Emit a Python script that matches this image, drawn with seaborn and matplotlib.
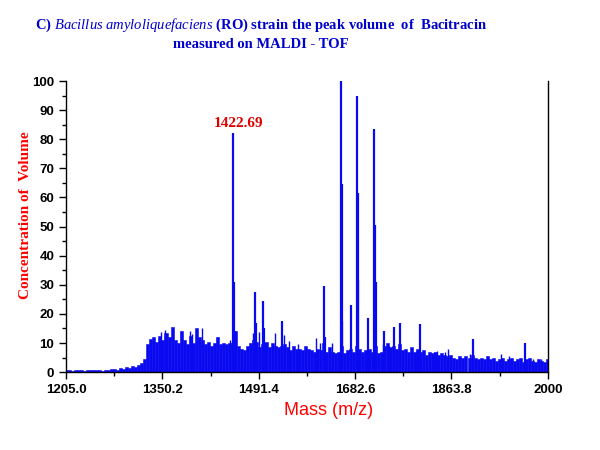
import pandas as pd
import matplotlib
matplotlib.use("Agg")
import matplotlib.pyplot as plt
import seaborn as sns

# baseline spectrum, one value per 5 m/z step starting at 1205
mass = list(range(1205, 2005, 5))
intensity = [
    0.6, 0.8, 0.5, 0.7, 0.9, 0.6, 0.5, 0.8, 0.7, 0.6, 0.9, 0.7, 0.5, 0.8, 0.6, 1.0,
    1.2, 0.9, 1.5, 1.1, 1.8, 1.4, 2.2, 1.9, 2.6, 3.1, 4.5,
    9.5, 11.5, 12.0, 10.5, 12.5, 11.0, 13.5, 12.0, 15.5, 11.0, 10.0, 14.0, 11.0, 9.5,
    12.5, 10.0, 15.0, 12.0, 11.0, 9.5, 10.5, 9.0, 10.0, 12.0, 9.5, 10.0, 9.5, 10.0,
    10.0, 14.0, 9.0, 8.0, 7.5, 9.0, 10.0, 11.0, 10.5, 8.5, 9.5, 10.5, 8.5, 10.0, 9.0,
    8.5, 9.0, 9.5, 8.5, 7.5, 9.0, 8.0, 8.0, 7.5, 9.0, 8.0, 7.5, 7.0, 8.0, 7.5, 10.0,
    7.0, 8.5, 7.0, 6.5, 7.0, 9.0, 6.5, 7.5, 8.0, 7.0, 9.0, 8.0, 7.0, 7.5, 8.0, 7.0,
    9.0, 6.5, 7.0, 9.0, 10.0, 8.5, 9.0, 8.0, 9.5, 7.5, 8.0, 7.0, 8.5, 7.0, 8.0, 7.0,
    7.5, 6.0, 7.0, 6.5, 7.0, 6.0, 6.5, 6.0, 5.5, 6.0, 5.0, 4.5, 5.5, 5.0, 5.5, 5.0,
    6.0, 5.0, 4.5, 5.0, 4.5, 5.5, 4.5, 5.0, 4.0, 4.5, 5.0, 4.0, 4.5, 5.0, 4.0, 4.5,
    5.0, 3.5, 4.5, 5.0, 4.0, 3.5, 4.5, 4.0, 3.5, 4.5,
]

# sharp peaks on top of the baseline
peak_mass = [1480.5, 1482.1, 1484.6, 1517.2, 1518.4, 1529.9, 1531.6, 1561.8,
             1631.0, 1632.1, 1658.1, 1659.6, 1661.0, 1674.6, 1684.5, 1686.0,
             1687.6, 1703.8, 1713.5, 1714.8, 1716.6, 1729.0, 1745.5, 1756.4,
             1789.4, 1875.8, 1962.6]
peak_height = [82, 31, 14, 27.4, 17, 24.4, 15, 17.5,
               29.5, 12, 100, 64.5, 17.5, 23, 95, 61.5,
               31.5, 18.5, 83.5, 50.6, 31, 14, 15.5, 17,
               16.5, 11.3, 10]

# small spikes that poke out of the noise floor
spike_mass = [1361.7, 1368.3, 1394.7, 1409.5, 1412.8, 1429.8, 1454.6, 1475.5,
              1512.9, 1523.8, 1549.2, 1565.1, 1573.3, 1587.2, 1616.9, 1624.5,
              1643.2, 1727.4, 1738.3, 1775.7, 1782.3, 1811.5, 1817.4, 1830.6,
              1834.6, 1871.4, 1901.5, 1922.5, 1936.2, 1974.8, 1988.5]
spike_height = [13.7, 14.4, 14.0, 14.0, 13.0, 15.0, 12.0, 11.0,
                13.5, 13.7, 13.3, 12.7, 10.7, 9.6, 11.7, 10.0,
                10.0, 9.6, 8.9, 7.9, 7.3, 7.0, 7.3, 7.0,
                8.0, 6.2, 5.3, 6.2, 5.7, 4.4, 4.4]

tick_pos = [1205, 1364, 1523, 1682, 1841, 2000]
tick_labels = ["1205.0", "1350.2", "1491.4", "1682.6", "1863.8", "2000"]

sns.set_style("ticks")
plt.rcParams["mathtext.fontset"] = "custom"
plt.rcParams["mathtext.it"] = "Liberation Serif:italic"
plt.rcParams["mathtext.rm"] = "Liberation Serif"

BLUE = "#0a0af0"

spec = pd.DataFrame({"mass": mass, "intensity": intensity})

fig = plt.figure(figsize=(6, 4.5), dpi=100)
ax = fig.add_axes([0.11, 0.173, 0.803, 0.647])

sns.histplot(data=spec, x="mass", weights="intensity",
             binwidth=5, binrange=(1202.5, 2002.5),
             color=BLUE, alpha=1, edgecolor=BLUE, linewidth=0.4, ax=ax)
ax.vlines(spike_mass, 0, spike_height, color=BLUE, linewidth=1.0)
ax.vlines(peak_mass, 0, peak_height, color=BLUE, linewidth=1.6)

ax.set_xlim(1205, 2000)
ax.set_ylim(0, 100)
ax.set_xticks(tick_pos)
ax.set_xticklabels(tick_labels)
ax.set_xticks([(a + b) / 2 for a, b in zip(tick_pos[:-1], tick_pos[1:])], minor=True)
ax.set_yticks(range(0, 101, 10))
ax.set_yticks(range(5, 100, 10), minor=True)
ax.tick_params(which="major", length=5, width=1, color="black", pad=3.5)
ax.tick_params(which="minor", length=3, width=1, color="black")
ax.tick_params(axis="y", which="both", right=False)
for lab in ax.get_xticklabels() + ax.get_yticklabels():
    lab.set_family("Liberation Sans")
    lab.set_fontweight("bold")
    lab.set_fontsize(9.5)
    lab.set_color("black")

ax.spines["top"].set_visible(False)
for s in ["left", "bottom", "right"]:
    ax.spines[s].set_color("black")
    ax.spines[s].set_linewidth(1)

ax.set_ylabel("")
ax.set_xlabel("")
fig.text(0.043, 0.522, "Concentration of  Volume", rotation=90, ha="center", va="center",
         color="red", family="Liberation Serif", fontweight="bold", fontsize=11)
fig.text(0.5475, 0.087, "Mass (m/z)", ha="center", va="center",
         color="red", family="Liberation Sans", fontsize=13)

ax.text(1490.3, 85.4, "1422.69", ha="center", va="center", color="#e00000",
        family="Liberation Serif", fontweight="bold", fontsize=11)

fig.text(0.435, 0.943,
         r"C) $\mathit{Bacillus\ amyloliquefaciens}$ (RO) strain the peak volume  of  Bacitracin",
         ha="center", va="center", color="#0000cc", family="Liberation Serif",
         fontweight="bold", fontsize=10.5)
fig.text(0.435, 0.901, "measured on MALDI - TOF", ha="center", va="center",
         color="#0000cc", family="Liberation Serif", fontweight="bold", fontsize=10.5)

fig.savefig("out.png", dpi=100)
